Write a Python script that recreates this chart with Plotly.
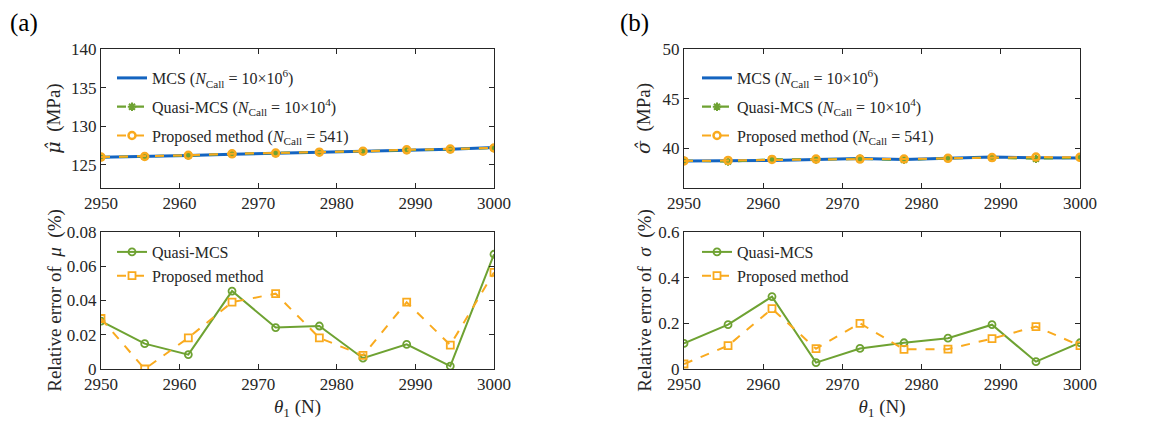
import plotly.graph_objects as go

theta1 = [2950, 2955.56, 2961.11, 2966.67, 2972.22, 2977.78, 2983.33, 2988.89, 2994.44, 3000]

mu_mcs = [125.98, 126.08, 126.22, 126.38, 126.48, 126.62, 126.75, 126.9, 127.02, 127.25]
mu_qmcs = [126.0, 126.06, 126.21, 126.42, 126.5, 126.65, 126.76, 126.92, 127.02, 127.17]
mu_prop = [126.01, 126.08, 126.24, 126.43, 126.53, 126.64, 126.76, 126.95, 127.04, 127.18]

sig_mcs = [38.72, 38.74, 38.78, 38.88, 38.98, 38.86, 38.96, 39.12, 39.05, 39.02]
sig_qmcs = [38.76, 38.66, 38.9, 38.87, 38.94, 38.83, 39.0, 39.05, 38.95, 39.06]
sig_prop = [38.73, 38.78, 38.88, 38.91, 38.91, 38.92, 38.99, 39.07, 39.12, 39.09]

err_mu_qmcs = [0.028, 0.0148, 0.0084, 0.0455, 0.0242, 0.0251, 0.0063, 0.0144, 0.0017, 0.067]
err_mu_prop = [0.0295, 0.0, 0.0182, 0.039, 0.044, 0.0182, 0.0079, 0.039, 0.014, 0.0564]

err_sig_qmcs = [0.112, 0.194, 0.317, 0.028, 0.090, 0.115, 0.135, 0.194, 0.032, 0.115]
err_sig_prop = [0.022, 0.102, 0.264, 0.089, 0.200, 0.086, 0.087, 0.133, 0.186, 0.102]

BLUE = "#1464C0"
GREEN = "#6EA232"
ORANGE = "#F9AA1E"
AX = "#262626"
FONT = "Liberation Serif, Times New Roman, DejaVu Serif, serif"

lbl_mcs = "MCS (<i>N</i><sub>Call</sub> = 10×10<sup>6</sup>)"
lbl_qmcs = "Quasi-MCS (<i>N</i><sub>Call</sub> = 10×10<sup>4</sup>)"
lbl_prop = "Proposed method (<i>N</i><sub>Call</sub> = 541)"

fig = go.Figure()

def top_traces(xa, ya, leg, mcs, q, p):
    fig.add_trace(go.Scatter(x=theta1, y=mcs, mode="lines", name=lbl_mcs, legendgroup=leg + "a",
                             line=dict(color=BLUE, width=3), xaxis=xa, yaxis=ya, legend=leg))
    fig.add_trace(go.Scatter(x=theta1, y=q, mode="lines+markers", name=lbl_qmcs, legendgroup=leg + "b",
                             line=dict(color=GREEN, width=2.2, dash="dash"),
                             marker=dict(symbol="asterisk-open", size=7, line=dict(color=GREEN, width=2)),
                             xaxis=xa, yaxis=ya, legend=leg))
    fig.add_trace(go.Scatter(x=theta1, y=p, mode="lines+markers", name=lbl_prop, legendgroup=leg + "c",
                             line=dict(color=ORANGE, width=2, dash="dash"),
                             marker=dict(symbol="circle-open", size=7, line=dict(color=ORANGE, width=2.5)),
                             xaxis=xa, yaxis=ya, legend=leg))

def bottom_traces(xa, ya, leg, q, p):
    fig.add_trace(go.Scatter(x=theta1, y=q, mode="lines+markers", name="Quasi-MCS",
                             line=dict(color=GREEN, width=2),
                             marker=dict(symbol="circle-open", size=7, line=dict(color=GREEN, width=1.8)),
                             xaxis=xa, yaxis=ya, legend=leg))
    fig.add_trace(go.Scatter(x=theta1, y=p, mode="lines+markers", name="Proposed method",
                             line=dict(color=ORANGE, width=2, dash="dash"),
                             marker=dict(symbol="square-open", size=7, line=dict(color=ORANGE, width=1.8)),
                             xaxis=xa, yaxis=ya, legend=leg))

top_traces("x", "y", "legend", mu_mcs, mu_qmcs, mu_prop)
bottom_traces("x2", "y2", "legend2", err_mu_qmcs, err_mu_prop)
top_traces("x3", "y3", "legend3", sig_mcs, sig_qmcs, sig_prop)
bottom_traces("x4", "y4", "legend4", err_sig_qmcs, err_sig_prop)

W, H = 1167, 427
OFF = 8  # page body margin
def px(v): return (v - OFF) / W
def py(v): return 1 - (v - OFF) / H

xl = [px(101), px(494)]
xr = [px(684), px(1080)]
yt = [py(188), py(49)]
yb = [py(369), py(232)]

tickf = dict(family=FONT, size=17, color=AX)
titf = dict(family=FONT, size=19, color=AX)

def xaxis(dom, anchor, title=None):
    d = dict(domain=dom, anchor=anchor, range=[2950, 3000], dtick=10, tick0=2950,
             showline=True, linecolor=AX, linewidth=1, mirror="ticks", ticks="inside",
             ticklen=5, tickcolor=AX, showgrid=False, zeroline=False, tickfont=tickf,
             automargin=False)
    if title:
        d["title"] = dict(text=title, font=titf, standoff=6)
    return d

def yaxis(dom, anchor, rng, dtick, title, standoff):
    return dict(domain=dom, anchor=anchor, range=rng, dtick=dtick,
                showline=True, linecolor=AX, linewidth=1, mirror="ticks", ticks="inside",
                ticklen=5, tickcolor=AX, showgrid=False, zeroline=False, tickfont=tickf,
                automargin=False, title=dict(text=title, font=titf, standoff=standoff))

theta_title = "<i>θ</i><sub>1</sub> (N)"
HAT = '<span style="font-family:DejaVu Serif"><i>{}</i></span>'

fig.update_layout(
    width=W, height=H, margin=dict(l=0, r=0, t=0, b=0, autoexpand=False),
    paper_bgcolor="white", plot_bgcolor="white",
    font=dict(family=FONT, color=AX),
    xaxis=xaxis(xl, "y"),
    yaxis=yaxis(yt, "x", [122, 140], 5, HAT.format("μ̂") + "  (MPa)", 5),
    xaxis2=xaxis(xl, "y2", theta_title),
    yaxis2=yaxis(yb, "x2", [0, 0.08], 0.02, "Relative error of  <i>μ</i>  (%)", 0),
    xaxis3=xaxis(xr, "y3"),
    yaxis3=yaxis(yt, "x3", [36, 50], 5, HAT.format("σ̂") + "  (MPa)", 6),
    xaxis4=xaxis(xr, "y4", theta_title),
    yaxis4=yaxis(yb, "x4", [0, 0.6], 0.2, "Relative error of  <i>σ</i>  (%)", 1),
    showlegend=True,
)

legfont = dict(family=FONT, size=16, color=AX)
common = dict(bgcolor="rgba(0,0,0,0)", font=legfont, xanchor="left", yanchor="top",
              itemwidth=30)
fig.update_layout(
    legend=dict(x=px(112), y=py(61), tracegroupgap=5, **common),
    legend2=dict(x=px(112), y=py(235), tracegroupgap=0, **common),
    legend3=dict(x=px(697), y=py(61), tracegroupgap=5, **common),
    legend4=dict(x=px(697), y=py(235), tracegroupgap=0, **common),
)

fig.add_annotation(text="(a)", x=px(24), y=py(23), xref="paper", yref="paper",
                   xanchor="center", yanchor="middle", showarrow=False,
                   font=dict(family=FONT, size=25, color="black"))
fig.add_annotation(text="(b)", x=px(634), y=py(23), xref="paper", yref="paper",
                   xanchor="center", yanchor="middle", showarrow=False,
                   font=dict(family=FONT, size=25, color="black"))

fig.write_html("out.html")
